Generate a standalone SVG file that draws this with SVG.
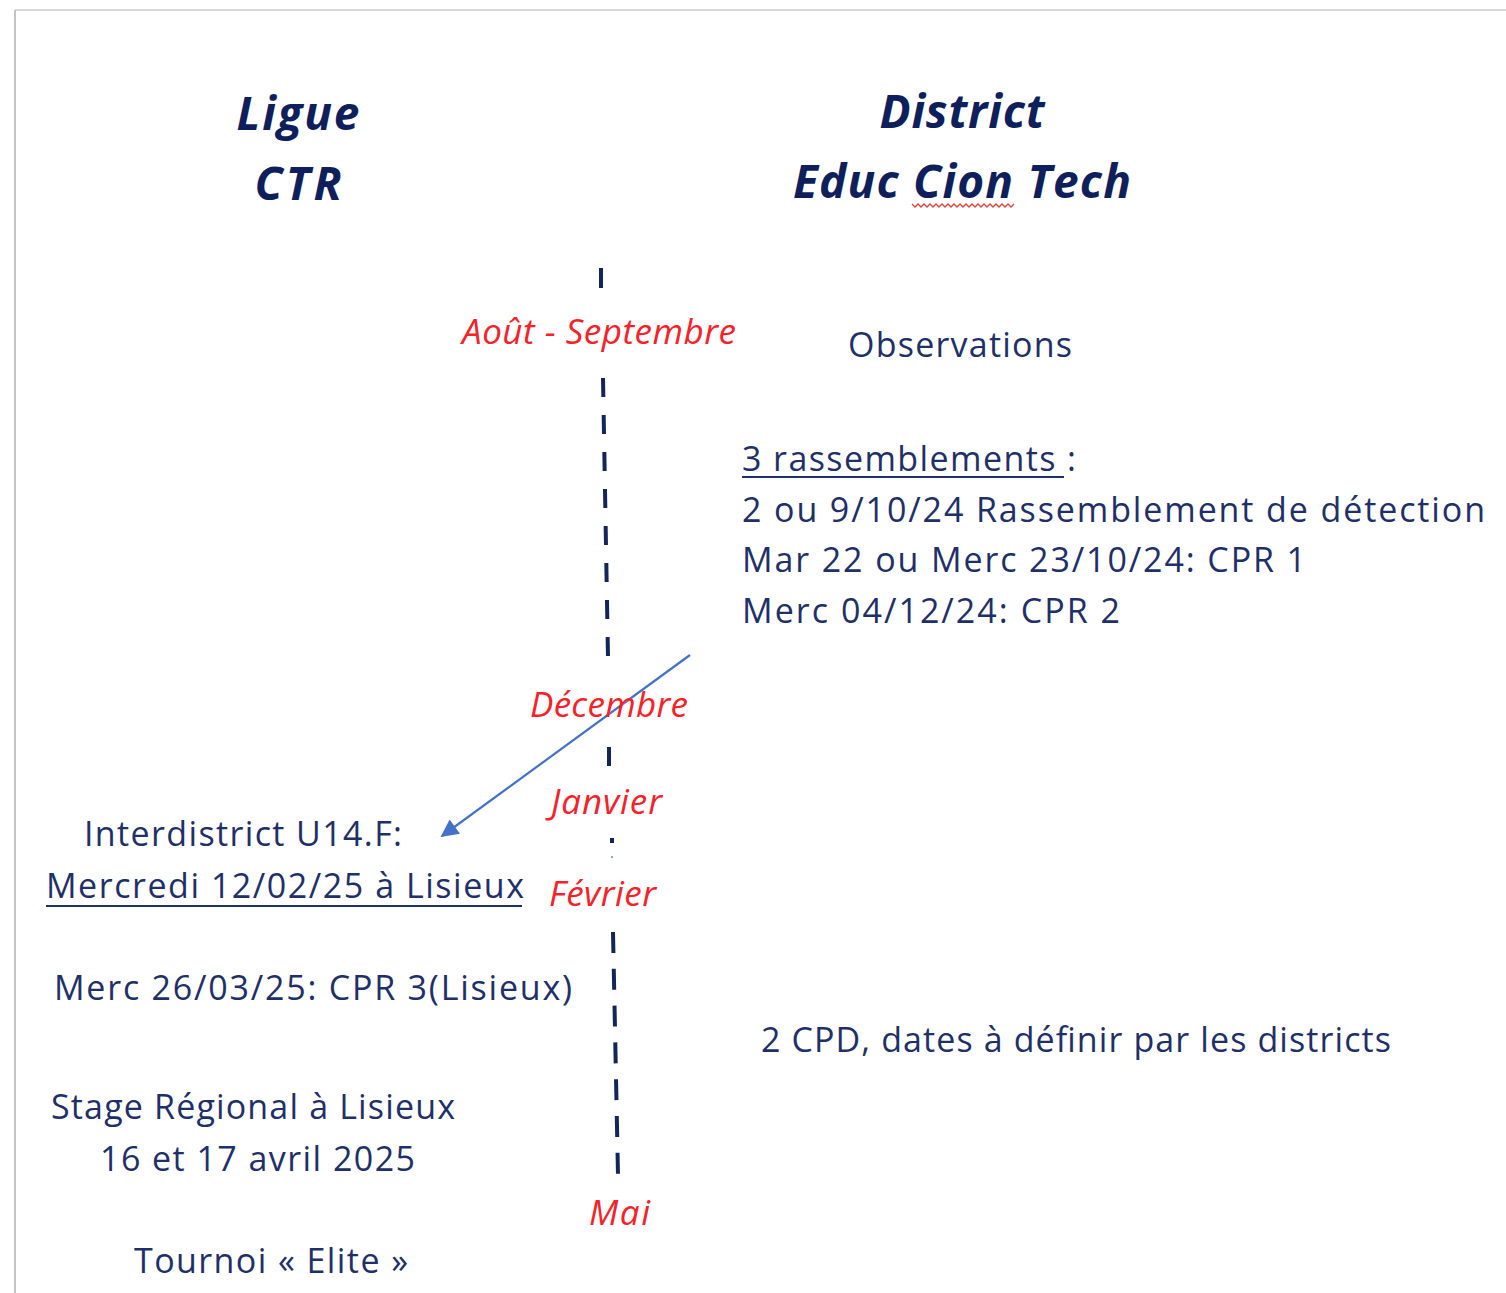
<svg xmlns="http://www.w3.org/2000/svg" width="1506" height="1293" viewBox="0 0 1506 1293">
<defs>
<style>
.t{font-family:"Open Sans","Noto Sans","Liberation Sans",sans-serif;fill:#1f3068;font-size:34px}
.h{font-family:"Open Sans","Noto Sans","Liberation Sans",sans-serif;fill:#0f1f5c;font-size:46px;font-weight:bold;font-style:italic}
.m{font-family:"Open Sans","Noto Sans","Liberation Sans",sans-serif;fill:#f5222a;font-size:35px;font-style:italic}
.tl{stroke:#14255a;stroke-width:4;fill:none}
.ul{stroke:#1f3068;stroke-width:2}
</style>
<marker id="ah" viewBox="0 0 10 10" refX="9" refY="5" markerWidth="10" markerHeight="8" orient="auto" markerUnits="strokeWidth">
<path d="M0,0 L10,5 L0,10 z" fill="#4472c4"/>
</marker>
</defs>
<rect width="1506" height="1293" fill="#ffffff"/>
<line x1="15" y1="10" x2="1506" y2="10" stroke="#d9d9d9" stroke-width="2"/>
<line x1="15" y1="10" x2="15" y2="1293" stroke="#c4c4c4" stroke-width="2"/>

<g id="connectors">
<line class="tl" x1="601" y1="268" x2="601" y2="288"/>
<line class="tl" x1="603" y1="378" x2="608" y2="657" stroke-dasharray="19 18"/>
<line class="tl" x1="609" y1="747" x2="609" y2="766"/>
<line class="tl" x1="612" y1="838" x2="612" y2="843" stroke-width="3"/>
<line x1="612" y1="856" x2="612" y2="858" stroke="#9aa3bd" stroke-width="2"/>
<line class="tl" x1="613" y1="932" x2="618" y2="1175" stroke-dasharray="21 15.8"/>
<line x1="690" y1="655" x2="442" y2="836" stroke="#4472c4" stroke-width="2.2" marker-end="url(#ah)"/>
</g>

<g id="ligue">
<text class="h" x="298" y="130" text-anchor="middle" textLength="123">Ligue</text>
<text class="h" x="298" y="200" text-anchor="middle" textLength="87">CTR</text>
</g>
<g id="district">
<text class="h" x="962" y="128" text-anchor="middle" textLength="165">District</text>
<text class="h" x="793" y="198" textLength="338">Educ Cion Tech</text>
<path d="M912,204 l3,3 l3,-3 l3,3 l3,-3 l3,3 l3,-3 l3,3 l3,-3 l3,3 l3,-3 l3,3 l3,-3 l3,3 l3,-3 l3,3 l3,-3 l3,3 l3,-3 l3,3 l3,-3 l3,3 l3,-3 l3,3 l3,-3 l3,3 l3,-3 l3,3 l3,-3 l3,3 l3,-3 l3,3 l3,-3 l3,3 l3,-3" fill="none" stroke="#e0403a" stroke-width="1.3"/>
</g>

<g id="aout-septembre"><text class="m" x="462" y="344" textLength="274">Août - Septembre</text></g>
<g id="observations"><text class="t" x="848" y="357" textLength="224">Observations</text></g>

<g id="rassemblements">
<text class="t" x="742" y="471" textLength="334">3 rassemblements :</text>
<line class="ul" x1="742" y1="477" x2="1064" y2="477"/>
<text class="t" x="742" y="522" textLength="743">2 ou 9/10/24  Rassemblement de détection</text>
<text class="t" x="742" y="572" textLength="564">Mar 22 ou Merc 23/10/24: CPR 1</text>
<text class="t" x="742" y="623" textLength="378">Merc 04/12/24: CPR 2</text>
</g>

<g id="decembre"><text class="m" x="530" y="717" textLength="158">Décembre</text></g>
<g id="janvier"><text class="m" x="551" y="814" textLength="111">Janvier</text></g>
<g id="fevrier"><text class="m" x="549" y="906" textLength="107">Février</text></g>
<g id="mai"><text class="m" x="589" y="1225" textLength="61">Mai</text></g>

<g id="interdistrict">
<text class="t" x="84" y="846" textLength="318">Interdistrict U14.F:</text>
<text class="t" x="46" y="898" textLength="478">Mercredi 12/02/25 à Lisieux</text>
<line class="ul" x1="46" y1="906" x2="522" y2="906"/>
</g>
<g id="cpr3"><text class="t" x="54" y="1000" textLength="518">Merc 26/03/25: CPR 3(Lisieux)</text></g>
<g id="cpd"><text class="t" x="761" y="1052" textLength="630">2 CPD, dates à définir par les districts</text></g>
<g id="stage">
<text class="t" x="51" y="1119" textLength="404">Stage Régional à Lisieux</text>
<text class="t" x="100" y="1171" textLength="315">16 et 17 avril 2025</text>
</g>
<g id="tournoi"><text class="t" x="134" y="1273" textLength="274">Tournoi « Elite »</text></g>
</svg>
